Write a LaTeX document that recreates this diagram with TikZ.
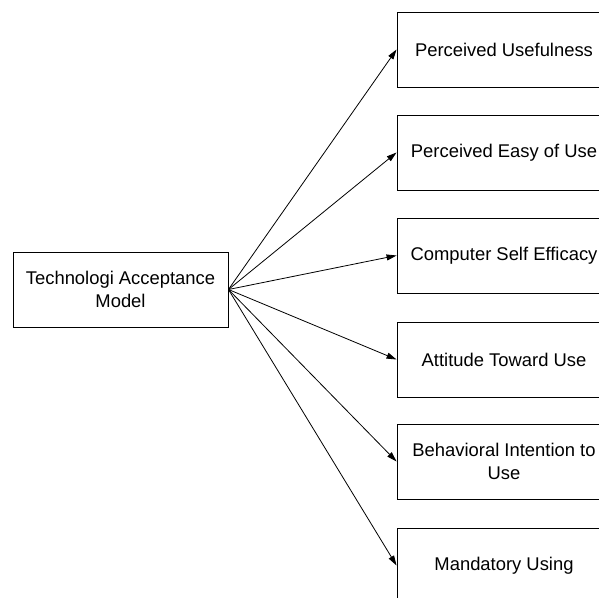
\documentclass[tikz,border=0pt]{standalone}
\usepackage{fontspec}
\setmainfont{Liberation Sans}
\usetikzlibrary{arrows.meta}
\begin{document}
\begin{tikzpicture}[x=1pt,y=-1pt,
  box/.style={draw=black, line width=0.9pt, minimum height=75pt, inner sep=0pt, align=center,
    font=\fontsize{18.4}{23}\selectfont},
  leftbox/.style={box, minimum width=215pt},
  rightbox/.style={box, minimum width=214pt},
  arr/.style={line width=0.8pt, -{Triangle[length=10pt,width=6pt]}}]
\useasboundingbox (0,0) rectangle (599,597);
\clip (0,0) rectangle (599,597);
\node[leftbox] (tam) at (120.5,289.5) {Technologi Acceptance\\Model};
\node[rightbox] (pu) at (504,49.5) {Perceived Usefulness};
\node[rightbox] (peu) at (504,152.5) {Perceived Easy of Use};
\node[rightbox] (cse) at (504,255.5) {Computer Self Efficacy};
\node[rightbox] (atu) at (504,359.5) {Attitude Toward Use};
\node[rightbox] (bi) at (504,461.5) {Behavioral Intention to\\Use};
\node[rightbox] (mu) at (504,565.5) {Mandatory Using};
\foreach \t in {pu,peu,cse,atu,bi,mu}{
  \draw[arr] (tam.east) -- (\t.west);
}
\end{tikzpicture}
\end{document}
